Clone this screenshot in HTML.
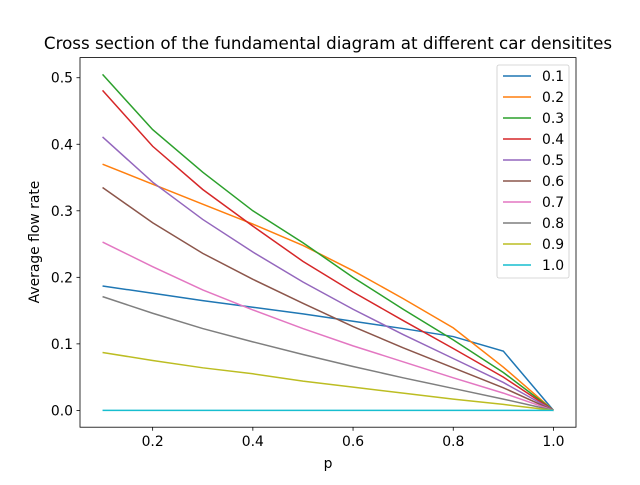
<!DOCTYPE html>
<html><head><meta charset="utf-8"><style>
body{margin:0;background:#fff}
svg{font-family:"DejaVu Sans","Liberation Sans",sans-serif}
</style></head><body>
<svg id="chart" width="640" height="480" viewBox="0 0 640 480" xmlns="http://www.w3.org/2000/svg">
<rect width="640" height="480" fill="#fff"/>
<text x="328" y="49" font-size="16.7" text-anchor="middle">Cross section of the fundamental diagram at different car densitites</text>
<g id="plot"></g>
<rect x="80" y="57.6" width="496" height="369.6" fill="none" stroke="#000" stroke-width="0.8"/>
<text x="328" y="468" font-size="13.9" text-anchor="middle">p</text>
<text transform="translate(39,242) rotate(-90)" font-size="13.9" text-anchor="middle">Average flow rate</text>
</svg>
<script>
const pValues=[0.1,0.2,0.3,0.4,0.5,0.6,0.7,0.8,0.9,1.0];
const densityLabels=["0.1","0.2","0.3","0.4","0.5","0.6","0.7","0.8","0.9","1.0"];
const s01=[0.187,0.176,0.165,0.155,0.145,0.134,0.123,0.111,0.089,0];
const s02=[0.370,0.340,0.310,0.280,0.248,0.210,0.168,0.124,0.065,0];
const s03=[0.505,0.422,0.358,0.300,0.252,0.200,0.152,0.106,0.057,0];
const s04=[0.481,0.397,0.332,0.277,0.224,0.178,0.135,0.093,0.050,0];
const s05=[0.411,0.343,0.287,0.238,0.193,0.152,0.114,0.078,0.042,0];
const s06=[0.335,0.282,0.236,0.197,0.161,0.126,0.094,0.064,0.034,0];
const s07=[0.253,0.216,0.181,0.151,0.123,0.097,0.073,0.049,0.026,0];
const s08=[0.171,0.146,0.123,0.103,0.084,0.066,0.049,0.033,0.017,0];
const s09=[0.087,0.075,0.064,0.055,0.044,0.035,0.026,0.017,0.009,0];
const s10=[0,0,0,0,0,0,0,0,0,0];
const xTicks=[0.2,0.4,0.6,0.8,1.0];
const yTicks=[0.0,0.1,0.2,0.3,0.4,0.5];
const series=[s01,s02,s03,s04,s05,s06,s07,s08,s09,s10];
const colors=["#1f77b4","#ff7f0e","#2ca02c","#d62728","#9467bd","#8c564b","#e377c2","#7f7f7f","#bcbd22","#17becf"];
const NS="http://www.w3.org/2000/svg";
const L=80,R=576,T=57.6,B=427.2;
const allX=pValues, allY=[].concat(...series);
const xmin0=Math.min(...allX),xmax0=Math.max(...allX),ymin0=Math.min(...allY),ymax0=Math.max(...allY);
const xm=(xmax0-xmin0)*0.05,ym=(ymax0-ymin0)*0.05;
const xs=v=>L+(v-(xmin0-xm))/((xmax0-xmin0)+2*xm)*(R-L);
const ys=v=>B-(v-(ymin0-ym))/((ymax0-ymin0)+2*ym)*(B-T);
const svg=document.getElementById('chart');
const plot=document.getElementById('plot');
function mk(tag,attrs,parent){const e=document.createElementNS(NS,tag);for(const k in attrs)e.setAttribute(k,attrs[k]);parent.appendChild(e);return e;}
xTicks.forEach(t=>{
  const g=mk('g',{},svg);
  
  
  mk('line',{x1:xs(t),x2:xs(t),y1:B,y2:B+3.5,stroke:'#000','stroke-width':0.8},g);
  const tx=mk('text',{x:xs(t),y:B+19,'font-size':13.9,'text-anchor':'middle'},g);tx.textContent=t.toFixed(1);
});
yTicks.forEach(t=>{
  const g=mk('g',{},svg);
  
  
  mk('line',{x1:L-3.5,x2:L,y1:ys(t),y2:ys(t),stroke:'#000','stroke-width':0.8},g);
  const tx=mk('text',{x:L-7,y:ys(t)+5,'font-size':13.9,'text-anchor':'end'},g);tx.textContent=t.toFixed(1);
});
series.forEach((s,i)=>{
  const pl=mk('polyline',{points:s.map((v,j)=>xs(pValues[j])+','+ys(v)).join(' '),fill:'none',stroke:colors[i],'stroke-width':1.5},plot);
  
  
});
const lg=mk('g',{},svg);


mk('rect',{x:497,y:65,width:72,height:213,rx:2,fill:'#fff',stroke:'#ccc','stroke-width':0.8},lg);
densityLabels.forEach((lab,i)=>{
  const y=76+i*21;
  const e=mk('g',{},lg);
  
  
  mk('line',{x1:503,x2:531,y1:y,y2:y,stroke:colors[i],'stroke-width':1.5},e);
  const t=mk('text',{x:542,y:y+5,'font-size':13.9},e);t.textContent=lab;
});
</script>
</body></html>
